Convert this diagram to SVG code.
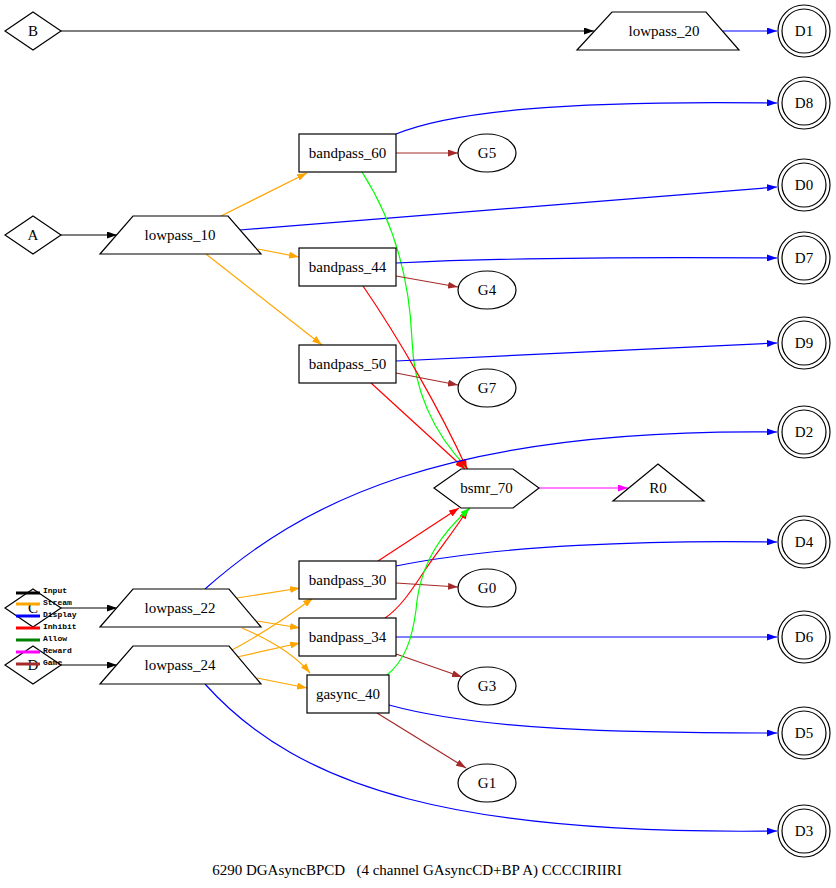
<svg xmlns="http://www.w3.org/2000/svg" width="836" height="888" viewBox="0 0 836 888">
<style>
.n{fill:#fff;stroke:#000;stroke-width:1.2}
.t{font-family:"Liberation Serif","Times New Roman",serif;font-size:15px;text-anchor:middle;fill:#000}
.e{fill:none;stroke-width:1.2}
.k{stroke:#000}.o{stroke:#ffa500}.b{stroke:#0000ff}.r{stroke:#ff0000}.g{stroke:#00ff00}.m{stroke:#ff00ff}.w{stroke:#a52a2a}
.lg{font-family:"Liberation Mono","Courier New",monospace;font-size:8px;font-weight:bold;fill:#000}
</style>
<defs>
<marker id="ak" viewBox="0 0 10 7" refX="10" refY="3.5" markerWidth="10" markerHeight="7" orient="auto" markerUnits="userSpaceOnUse"><path d="M0,0L10,3.5L0,7z" fill="#000"/></marker>
<marker id="ao" viewBox="0 0 10 7" refX="10" refY="3.5" markerWidth="10" markerHeight="7" orient="auto" markerUnits="userSpaceOnUse"><path d="M0,0L10,3.5L0,7z" fill="#ffa500"/></marker>
<marker id="ab" viewBox="0 0 10 7" refX="10" refY="3.5" markerWidth="10" markerHeight="7" orient="auto" markerUnits="userSpaceOnUse"><path d="M0,0L10,3.5L0,7z" fill="#0000ff"/></marker>
<marker id="ar" viewBox="0 0 10 7" refX="10" refY="3.5" markerWidth="10" markerHeight="7" orient="auto" markerUnits="userSpaceOnUse"><path d="M0,0L10,3.5L0,7z" fill="#ff0000"/></marker>
<marker id="ag" viewBox="0 0 10 7" refX="10" refY="3.5" markerWidth="10" markerHeight="7" orient="auto" markerUnits="userSpaceOnUse"><path d="M0,0L10,3.5L0,7z" fill="#00ff00"/></marker>
<marker id="am" viewBox="0 0 10 7" refX="10" refY="3.5" markerWidth="10" markerHeight="7" orient="auto" markerUnits="userSpaceOnUse"><path d="M0,0L10,3.5L0,7z" fill="#ff00ff"/></marker>
<marker id="aw" viewBox="0 0 10 7" refX="10" refY="3.5" markerWidth="10" markerHeight="7" orient="auto" markerUnits="userSpaceOnUse"><path d="M0,0L10,3.5L0,7z" fill="#a52a2a"/></marker>
</defs>
<rect width="836" height="888" fill="#fff"/>

<g id="edges">
<path class="e k" marker-end="url(#ak)" d="M61,31L594,31"/>
<path class="e b" marker-end="url(#ab)" d="M723,31L777,31"/>
<path class="e k" marker-end="url(#ak)" d="M61,235L117,235"/>
<path class="e k" marker-end="url(#ak)" d="M61,608L117,608"/>
<path class="e k" marker-end="url(#ak)" d="M61,665L117,665"/>

<path class="e o" marker-end="url(#ao)" d="M221,216L307,173"/>
<path class="e o" marker-end="url(#ao)" d="M258,249L299,257"/>
<path class="e o" marker-end="url(#ao)" d="M206,254L322,345"/>
<path class="e b" marker-end="url(#ab)" d="M240,230L777,187"/>

<path class="e b" marker-end="url(#ab)" d="M396,134C450,112 560,100 777,103"/>
<path class="e w" marker-end="url(#aw)" d="M396,153L458,153"/>
<path class="e g" marker-end="url(#ag)" d="M362,172C398,228 410,290 412,340C414,400 440,440 468,469"/>

<path class="e b" marker-end="url(#ab)" d="M396,263C500,258 650,257 777,258"/>
<path class="e w" marker-end="url(#aw)" d="M396,276L458,287"/>
<path class="e r" marker-end="url(#ar)" d="M363,286C400,340 440,410 467,469"/>

<path class="e b" marker-end="url(#ab)" d="M396,361L777,343"/>
<path class="e w" marker-end="url(#aw)" d="M396,373L458,385"/>
<path class="e r" marker-end="url(#ar)" d="M371,383L465,469"/>

<path class="e m" marker-end="url(#am)" d="M539,488L628,488"/>

<path class="e b" marker-end="url(#ab)" d="M205,589C300,505 440,428 777,432"/>
<path class="e o" marker-end="url(#ao)" d="M237,598L300,588"/>
<path class="e o" marker-end="url(#ao)" d="M257,621L300,628"/>
<path class="e o" marker-end="url(#ao)" d="M242,628C270,640 295,655 310,673"/>
<path class="e o" marker-end="url(#ao)" d="M232,650C260,635 290,615 313,598"/>
<path class="e o" marker-end="url(#ao)" d="M237,657L300,643"/>
<path class="e o" marker-end="url(#ao)" d="M257,678L307,688"/>
<path class="e b" marker-end="url(#ab)" d="M205,684C300,790 460,835 777,831"/>

<path class="e b" marker-end="url(#ab)" d="M396,566C500,545 650,540 777,542"/>
<path class="e w" marker-end="url(#aw)" d="M396,583L458,587"/>
<path class="e r" marker-end="url(#ar)" d="M378,561L459,508"/>

<path class="e b" marker-end="url(#ab)" d="M396,637L777,637"/>
<path class="e w" marker-end="url(#aw)" d="M396,654L462,677"/>
<path class="e r" marker-end="url(#ar)" d="M385,618C400,608 412,590 425,570C440,548 455,530 468,509"/>

<path class="e g" marker-end="url(#ag)" d="M387,675C405,660 412,640 416,610C420,560 445,530 470,508"/>
<path class="e b" marker-end="url(#ab)" d="M389,705C480,730 620,733 777,733"/>
<path class="e w" marker-end="url(#aw)" d="M377,713L466,768"/>
</g>

<g id="B"><polygon class="n" points="33,12 61,31 33,50 5,31"/><text class="t" x="33" y="36">B</text></g>
<g id="A"><polygon class="n" points="33,216 61,235 33,254 5,235"/><text class="t" x="33" y="240">A</text></g>
<g id="C"><polygon class="n" points="33,589 61,608 33,627 5,608"/><text class="t" x="33" y="613">C</text></g>
<g id="D"><polygon class="n" points="33,646 61,665 33,684 5,665"/><text class="t" x="33" y="670">D</text></g>

<g id="lowpass_20"><polygon class="n" points="612,12 706,12 739,50 577,50"/><text class="t" x="664" y="36">lowpass_20</text></g>
<g id="lowpass_10"><polygon class="n" points="133,216 228,216 261,254 100,254"/><text class="t" x="180" y="240">lowpass_10</text></g>
<g id="lowpass_22"><polygon class="n" points="133,589 229,589 261,627 100,627"/><text class="t" x="180" y="613">lowpass_22</text></g>
<g id="lowpass_24"><polygon class="n" points="133,646 229,646 261,684 100,684"/><text class="t" x="180" y="670">lowpass_24</text></g>

<g id="bandpass_60"><rect class="n" x="299" y="134" width="97" height="38"/><text class="t" x="347.5" y="158">bandpass_60</text></g>
<g id="bandpass_44"><rect class="n" x="299" y="248" width="97" height="38"/><text class="t" x="347.5" y="272">bandpass_44</text></g>
<g id="bandpass_50"><rect class="n" x="299" y="345" width="97" height="38"/><text class="t" x="347.5" y="369">bandpass_50</text></g>
<g id="bandpass_30"><rect class="n" x="299" y="561" width="97" height="38"/><text class="t" x="347.5" y="585">bandpass_30</text></g>
<g id="bandpass_34"><rect class="n" x="299" y="618" width="97" height="38"/><text class="t" x="347.5" y="642">bandpass_34</text></g>
<g id="gasync_40"><rect class="n" x="307" y="675" width="82" height="38"/><text class="t" x="348" y="699">gasync_40</text></g>

<g id="bsmr_70"><polygon class="n" points="434,488 461,469 513,469 539,488 513,508 461,508"/><text class="t" x="486.5" y="493">bsmr_70</text></g>
<g id="R0"><polygon class="n" points="658,464 704,501 613,501"/><text class="t" x="658" y="493">R0</text></g>

<g id="G5"><ellipse class="n" cx="487" cy="153" rx="29" ry="19"/><text class="t" x="487" y="158">G5</text></g>
<g id="G4"><ellipse class="n" cx="487" cy="290" rx="29" ry="19"/><text class="t" x="487" y="295">G4</text></g>
<g id="G7"><ellipse class="n" cx="487" cy="388" rx="29" ry="19"/><text class="t" x="487" y="393">G7</text></g>
<g id="G0"><ellipse class="n" cx="487" cy="588" rx="29" ry="19"/><text class="t" x="487" y="593">G0</text></g>
<g id="G3"><ellipse class="n" cx="487" cy="686" rx="29" ry="19"/><text class="t" x="487" y="691">G3</text></g>
<g id="G1"><ellipse class="n" cx="487" cy="783" rx="29" ry="19"/><text class="t" x="487" y="788">G1</text></g>

<g id="D1"><circle class="n" cx="804" cy="31" r="26"/><circle class="n" cx="804" cy="31" r="22"/><text class="t" x="804" y="36">D1</text></g>
<g id="D8"><circle class="n" cx="804" cy="103" r="26"/><circle class="n" cx="804" cy="103" r="22"/><text class="t" x="804" y="108">D8</text></g>
<g id="D0"><circle class="n" cx="804" cy="185" r="26"/><circle class="n" cx="804" cy="185" r="22"/><text class="t" x="804" y="190">D0</text></g>
<g id="D7"><circle class="n" cx="804" cy="258" r="26"/><circle class="n" cx="804" cy="258" r="22"/><text class="t" x="804" y="263">D7</text></g>
<g id="D9"><circle class="n" cx="804" cy="343" r="26"/><circle class="n" cx="804" cy="343" r="22"/><text class="t" x="804" y="348">D9</text></g>
<g id="D2"><circle class="n" cx="804" cy="432" r="26"/><circle class="n" cx="804" cy="432" r="22"/><text class="t" x="804" y="437">D2</text></g>
<g id="D4"><circle class="n" cx="804" cy="542" r="26"/><circle class="n" cx="804" cy="542" r="22"/><text class="t" x="804" y="547">D4</text></g>
<g id="D6"><circle class="n" cx="804" cy="637" r="26"/><circle class="n" cx="804" cy="637" r="22"/><text class="t" x="804" y="642">D6</text></g>
<g id="D5"><circle class="n" cx="804" cy="733" r="26"/><circle class="n" cx="804" cy="733" r="22"/><text class="t" x="804" y="738">D5</text></g>
<g id="D3"><circle class="n" cx="804" cy="831" r="26"/><circle class="n" cx="804" cy="831" r="22"/><text class="t" x="804" y="836">D3</text></g>

<g id="legend">
<line x1="16" y1="593" x2="40" y2="593" stroke="#000" stroke-width="3"/>
<line x1="16" y1="604" x2="40" y2="604" stroke="#ffa500" stroke-width="3"/>
<line x1="16" y1="616" x2="40" y2="616" stroke="#0000ff" stroke-width="3"/>
<line x1="16" y1="628" x2="40" y2="628" stroke="#ff0000" stroke-width="3"/>
<line x1="16" y1="640" x2="40" y2="640" stroke="#008000" stroke-width="3"/>
<line x1="16" y1="652" x2="40" y2="652" stroke="#ff00ff" stroke-width="3"/>
<line x1="16" y1="664" x2="40" y2="664" stroke="#a52a2a" stroke-width="3"/>
<text class="lg" x="43" y="593">Input</text>
<text class="lg" x="43" y="605">Stream</text>
<text class="lg" x="43" y="617">Display</text>
<text class="lg" x="43" y="629">Inhibit</text>
<text class="lg" x="43" y="641">Allow</text>
<text class="lg" x="43" y="653">Reward</text>
<text class="lg" x="43" y="665">Game</text>
</g>

<text class="t" x="417" y="875" xml:space="preserve">6290 DGAsyncBPCD   (4 channel GAsyncCD+BP A) CCCCIRIIRI</text>
</svg>
